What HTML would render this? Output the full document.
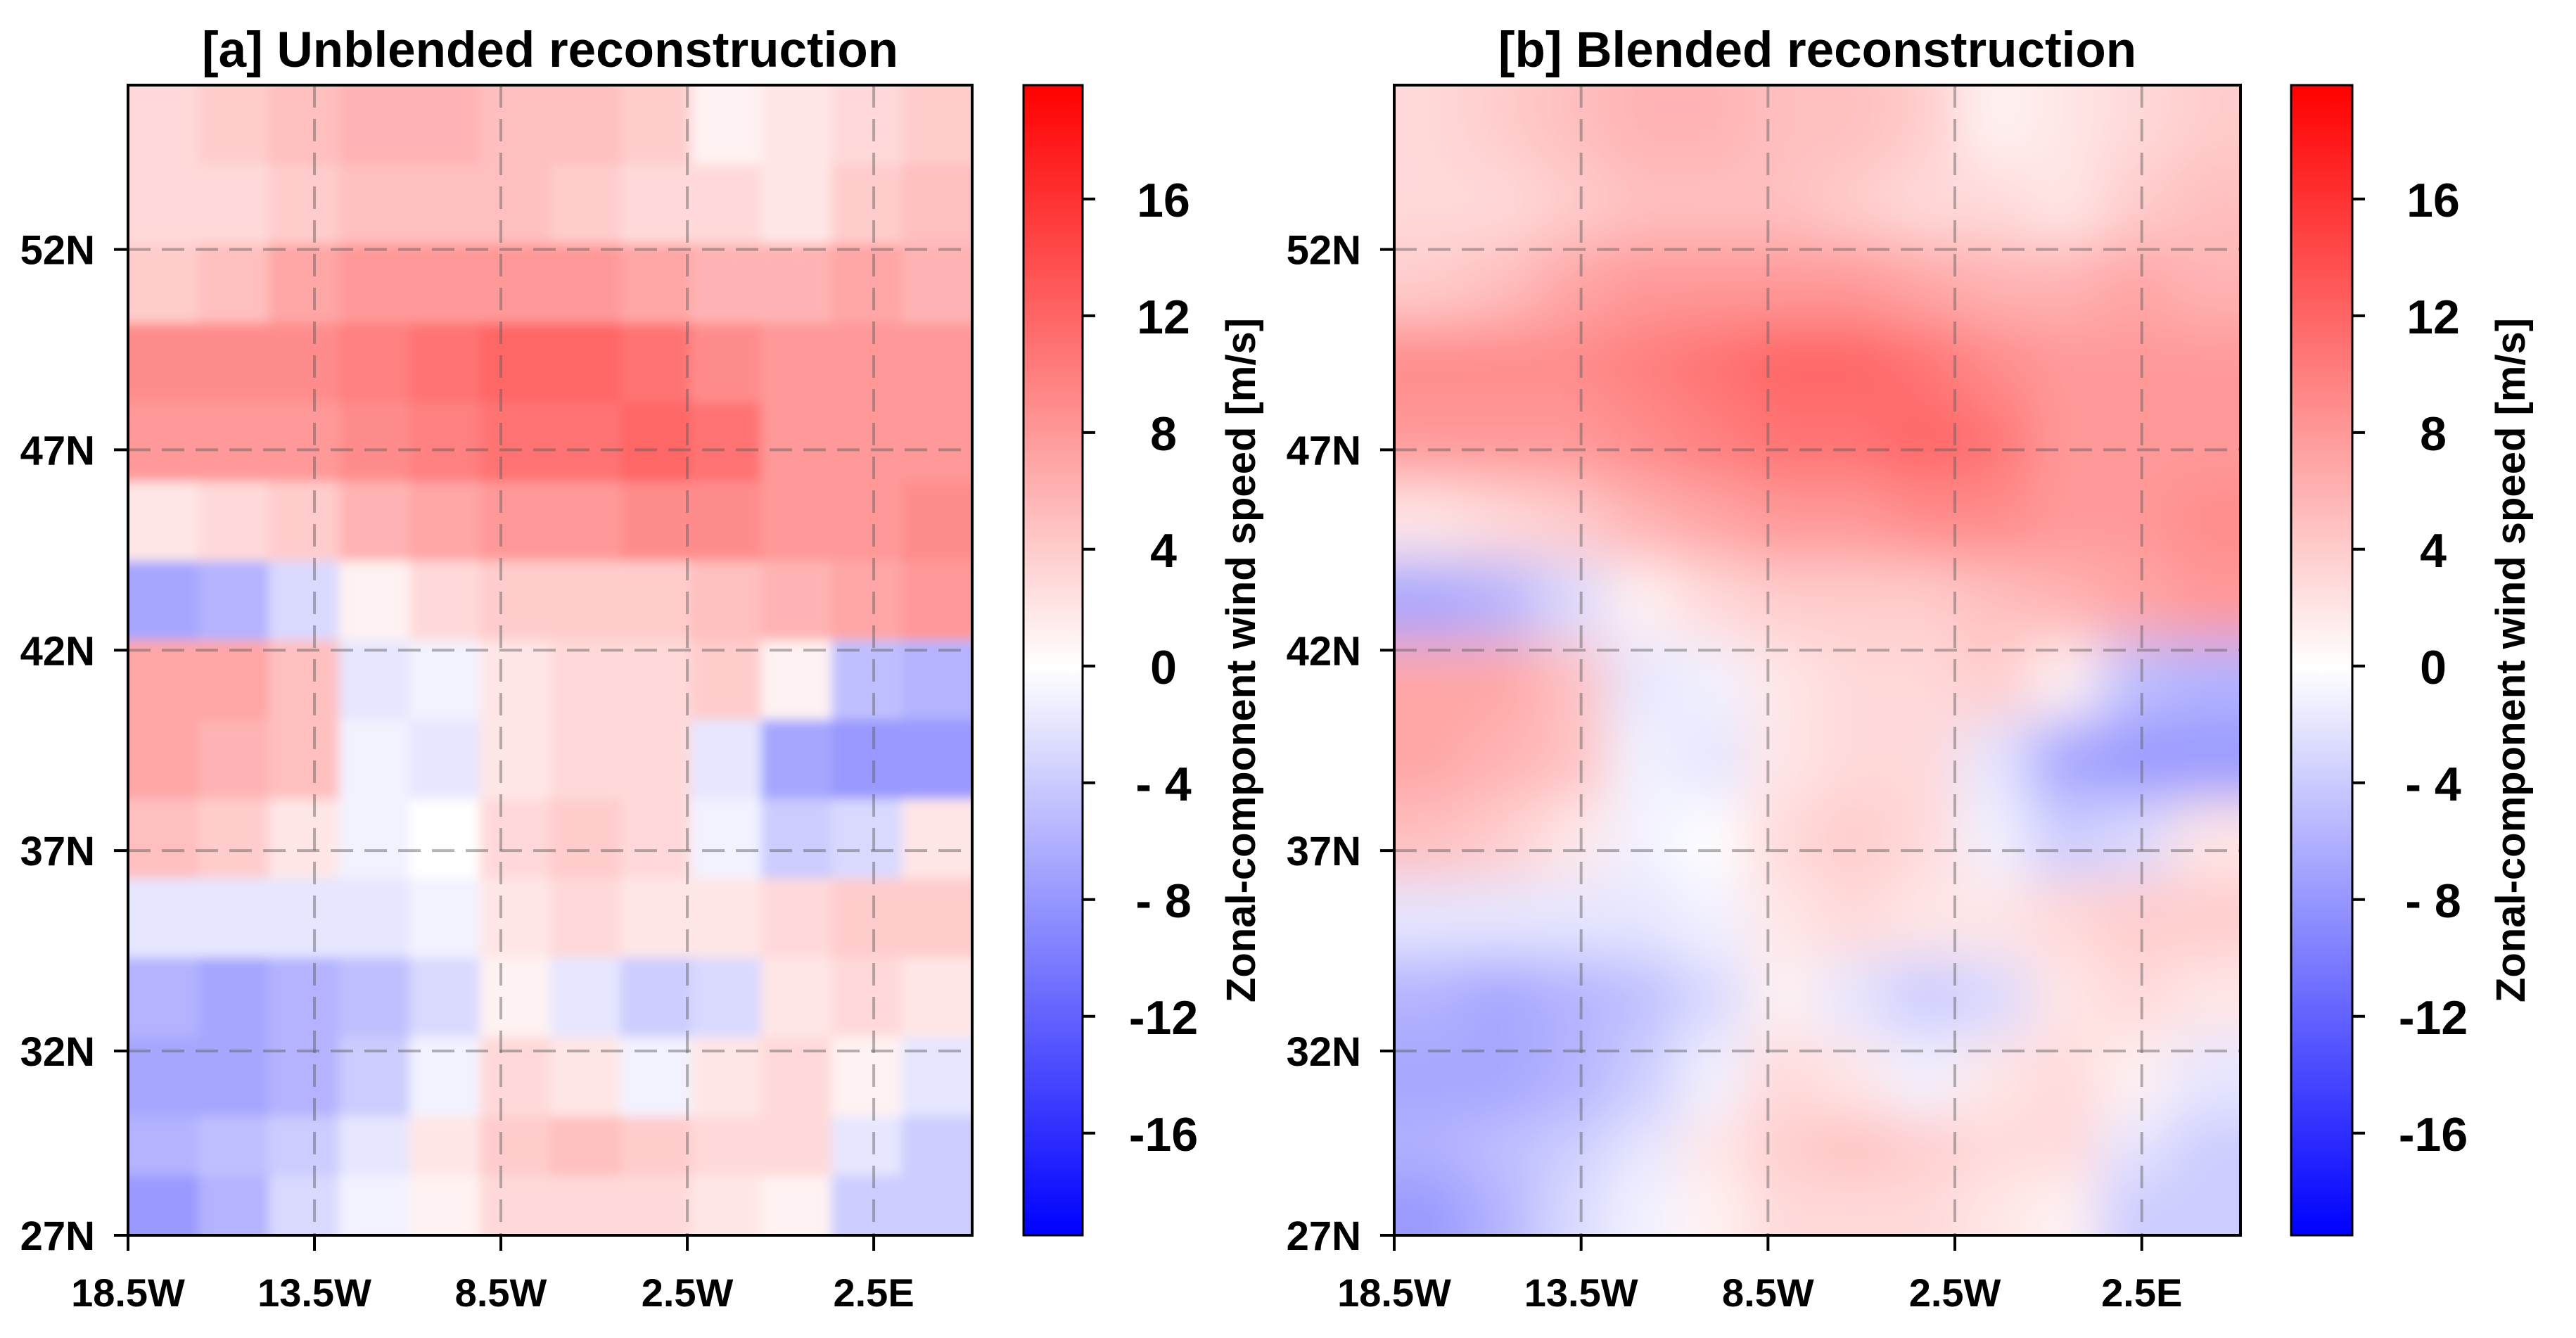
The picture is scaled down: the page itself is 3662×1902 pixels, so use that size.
<!DOCTYPE html>
<html><head><meta charset="utf-8"><style>
html,body{margin:0;padding:0;background:#fff;}
svg{display:block;font-family:"Liberation Sans",Arial,sans-serif;font-weight:bold;}
</style></head><body>
<svg id="fig" width="3662" height="1902" viewBox="0 0 3662 1902" xmlns="http://www.w3.org/2000/svg">
<defs>
<linearGradient id="cbg" x1="0" y1="0" x2="0" y2="1">
<stop offset="0" stop-color="#ff0000"/><stop offset="0.506" stop-color="#ffffff"/><stop offset="1" stop-color="#0000ff"/>
</linearGradient>
<filter id="blurA" x="-5%" y="-5%" width="110%" height="110%"><feGaussianBlur stdDeviation="8"/></filter>
<filter id="blurB" x="-5%" y="-5%" width="110%" height="110%"><feGaussianBlur stdDeviation="38"/></filter>
<clipPath id="clipA"><rect x="182" y="121" width="1200" height="1635"/></clipPath>
<clipPath id="clipB"><rect x="1982" y="121" width="1203" height="1635"/></clipPath>
</defs>
</svg>
<script>
// ---- data ----
const lonTicks = [-18.5, -13.5, -8.5, -3.5, 1.5];
const lonTickLabels = ["18.5W", "13.5W", "8.5W", "2.5W", "2.5E"];
const latTicks = [52, 47, 42, 37, 32, 27.4];
const latTickLabels = ["52N", "47N", "42N", "37N", "32N", "27N"];
const cbTicks = [16, 12, 8, 4, 0, -4, -8, -12, -16];
const cbTickLabels = ["16", "12", "8", "4", "0", "- 4", "- 8", "-12", "-16"];
const lonEdges = [-18.5, -16.5, -14.5, -12.5, -10.5, -8.5, -6.5, -4.5, -2.5, -0.5, 1.5, 3.5, 5.5];
const latEdges = [56, 54, 52, 50, 48, 46, 44, 42, 40, 38, 36, 34, 32, 30, 28.5, 27];
const windU = [
 [3,4,5,6,6,5,5,4,1,2,3,4],
 [3,3,4,5,5,5,4,3,3,2,4,5],
 [4,5,7,8,8,8,8,7,6,6,7,6],
 [9,9,9,10,11,12,12,11,9,8,8,8],
 [8,8,8,9,10,11,11,12,11,8,8,8],
 [2,3,4,6,7,8,8,9,9,8,8,9],
 [-7,-6,-3,1,3,4,4,4,5,6,7,8],
 [7,7,5,-2,-1,2,3,3,4,1,-5,-6],
 [7,6,5,-1,-2,2,3,3,-2,-7,-8,-8],
 [5,4,2,-1,0,3,4,3,-1,-4,-3,2],
 [-2,-2,-2,-2,-1,2,3,2,2,3,4,4],
 [-6,-7,-6,-5,-3,1,-2,-4,-3,2,3,2],
 [-7,-7,-6,-4,-1,3,2,-1,2,3,1,-2],
 [-6,-5,-4,-2,2,4,5,4,3,3,-2,-4],
 [-8,-6,-3,-1,1,3,3,3,2,1,-4,-4]
];
const titles = ["[a] Unblended reconstruction", "[b] Blended reconstruction"];

const NS = "http://www.w3.org/2000/svg";
const svg = document.getElementById("fig");
function mk(tag, attrs, parent){ const e=document.createElementNS(NS,tag); for(const k in attrs) e.setAttribute(k,attrs[k]); (parent||svg).appendChild(e); return e; }
function color(v){
  const t=Math.max(-1,Math.min(1,v/20));
  if(t<0){ const c=Math.round(255*(1+t)); return `rgb(${c},${c},255)`; }
  const c=Math.round(255*(1-t)); return `rgb(255,${c},${c})`;
}
const panels = [
  {x0:182, x1:1382, cbx0:1455, cbx1:1539, clip:"clipA", blur:"blurA", key:"a"},
  {x0:1982, x1:3185, cbx0:3257, cbx1:3344, clip:"clipB", blur:"blurB", key:"b"}
];
const y0=121, y1=1756, lonMin=-18.5, lonMax=4.14, latMin=27.4, latMax=56.1;
const cbMax=19.9, cbMin=-19.5;

panels.forEach((p,pi)=>{
  const xs = lon => p.x0 + (lon-lonMin)/(lonMax-lonMin)*(p.x1-p.x0);
  const ys = lat => y1 - (lat-latMin)/(latMax-latMin)*(y1-y0);
  const cy = v => y0 + (cbMax-v)/(cbMax-cbMin)*(y1-y0);

  const outer = mk("g",{"clip-path":`url(#${p.clip})`});
  
  
  const inner = mk("g",{filter:`url(#${p.blur})`}, outer);
  const nr=windU.length, nc=windU[0].length;
  const gx = c => p.x0 + c/nc*(p.x1-p.x0);
  for(let r=0;r<nr;r++){
    for(let c=0;c<nc;c++){
      let xa=gx(c), xb=gx(c+1);
      let ya=y0+(56-latEdges[r])/29*(y1-y0), yb=y0+(56-latEdges[r+1])/29*(y1-y0);
      if(c===0) xa-=80; if(c===nc-1) xb+=80;
      if(r===0) ya-=80; if(r===nr-1) yb+=80;
      const cell=mk("rect",{x:xa,y:ya,width:xb-xa+0.5,height:yb-ya+0.5,fill:color(windU[r][c])},inner);
      
      
    }
  }
  lonTicks.forEach(l=>{
    const g=mk("line",{x1:xs(l),x2:xs(l),y1:y0,y2:y1,stroke:"rgba(90,90,90,0.45)","stroke-width":4,"stroke-dasharray":"32 16"});
    
    
  });
  latTicks.forEach(l=>{
    const g=mk("line",{x1:p.x0,x2:p.x1,y1:ys(l),y2:ys(l),stroke:"rgba(90,90,90,0.45)","stroke-width":4,"stroke-dasharray":"32 16"});
    
    
  });
  const frame=mk("rect",{x:p.x0,y:y0,width:p.x1-p.x0,height:y1-y0,fill:"none",stroke:"#000","stroke-width":4});
  
  
  lonTicks.forEach((l,i)=>{
    mk("line",{x1:xs(l),x2:xs(l),y1:y1,y2:y1+22,stroke:"#000","stroke-width":4});
    const t=mk("text",{x:xs(l),y:1857,"text-anchor":"middle","font-size":56});
    t.textContent=lonTickLabels[i];
    
    
  });
  latTicks.forEach((l,i)=>{
    mk("line",{x1:p.x0-20,x2:p.x0,y1:ys(l),y2:ys(l),stroke:"#000","stroke-width":4});
    const t=mk("text",{x:p.x0-47,y:ys(l)+21,"text-anchor":"end","font-size":58});
    t.textContent=latTickLabels[i];
    
    
  });
  const title=mk("text",{x:(p.x0+p.x1)/2,y:95,"text-anchor":"middle","font-size":71});
  title.textContent=titles[pi];
  
  
  const cb=mk("rect",{x:p.cbx0,y:y0,width:p.cbx1-p.cbx0,height:y1-y0,fill:"url(#cbg)",stroke:"#000","stroke-width":3});
  
  
  cbTicks.forEach((v,i)=>{
    mk("line",{x1:p.cbx1,x2:p.cbx1+18,y1:cy(v),y2:cy(v),stroke:"#000","stroke-width":4});
    const t=mk("text",{x:p.cbx1+115,y:cy(v)+25,"text-anchor":"middle","font-size":68});
    t.textContent=cbTickLabels[i];
    
    
  });
  const cx=p.cbx1+245;
  const lab=mk("text",{x:cx,y:(y0+y1)/2,"text-anchor":"middle","font-size":58,transform:`rotate(-90 ${cx} ${(y0+y1)/2})`});
  lab.textContent="Zonal-component wind speed [m/s]";
  
  
});
</script>
</body></html>
